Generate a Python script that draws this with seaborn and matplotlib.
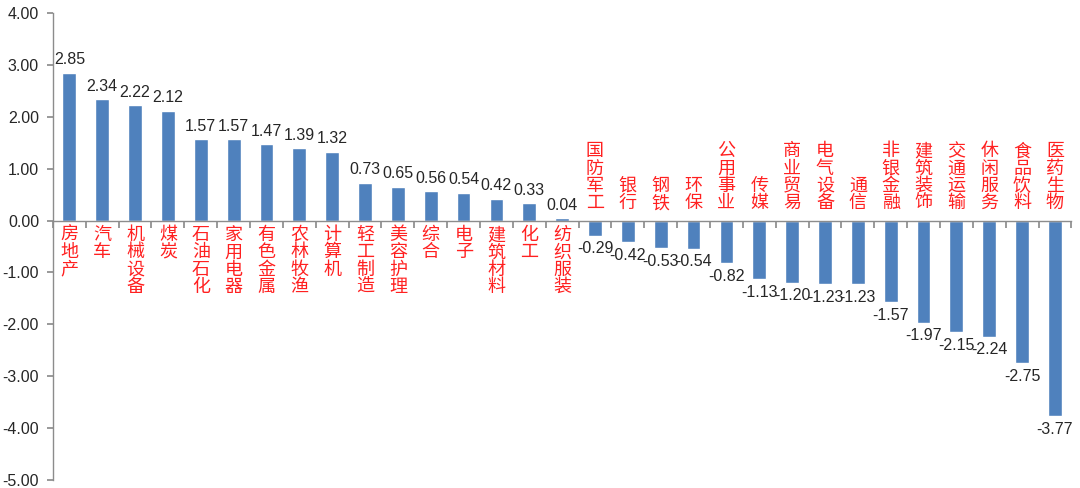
import matplotlib
matplotlib.use("Agg")
import pandas as pd
import seaborn as sns
import matplotlib.pyplot as plt
from matplotlib.ticker import FormatStrFormatter

# data
industries = ["房地产", "汽车", "机械设备", "煤炭", "石油石化", "家用电器", "有色金属",
              "农林牧渔", "计算机", "轻工制造", "美容护理", "综合", "电子", "建筑材料",
              "化工", "纺织服装", "国防军工", "银行", "钢铁", "环保", "公用事业", "传媒",
              "商业贸易", "电气设备", "通信", "非银金融", "建筑装饰", "交通运输",
              "休闲服务", "食品饮料", "医药生物"]
changes = [2.85, 2.34, 2.22, 2.12, 1.57, 1.57, 1.47, 1.39, 1.32, 0.73, 0.65, 0.56,
           0.54, 0.42, 0.33, 0.04, -0.29, -0.42, -0.53, -0.54, -0.82, -1.13, -1.20,
           -1.23, -1.23, -1.57, -1.97, -2.15, -2.24, -2.75, -3.77]

df = pd.DataFrame({"industry": industries, "change": changes})

sns.set_theme(style="white")
plt.rcParams["font.family"] = ["Liberation Sans", "Noto Sans CJK SC", "DejaVu Sans"]

fig = plt.figure(figsize=(10.8, 4.88), dpi=100)
ax = fig.add_axes([0.049, 0.0164, 0.943, 0.957])

sns.barplot(data=df, x="industry", y="change", color="#4F81BD", width=0.42,
            order=industries, ax=ax, saturation=1)

n = len(industries)
ax.set_xlim(-0.5, n - 0.5)
ax.set_ylim(-5, 4)
ax.set_yticks(range(-5, 5))
ax.yaxis.set_major_formatter(FormatStrFormatter("%.2f"))
ax.set_xlabel("")
ax.set_ylabel("")

# category axis sits on zero with ticks between bars
ax.set_xticks([i + 0.5 for i in range(-1, n)])
ax.set_xticklabels([])
ax.spines["bottom"].set_position(("data", 0))
for s in ["top", "right"]:
    ax.spines[s].set_visible(False)
for s in ["bottom", "left"]:
    ax.spines[s].set_color("#8C8C8C")
    ax.spines[s].set_linewidth(1)
ax.tick_params(axis="x", bottom=True, direction="out", length=5, color="#8C8C8C")
ax.tick_params(axis="y", left=True, direction="out", length=4, color="#8C8C8C",
               labelsize=11.5, pad=6)

cjk = ["Noto Sans CJK SC", "DejaVu Sans"]
for i, (name, v) in enumerate(zip(industries, changes)):
    label = "\n".join(name)
    if v >= 0:
        ax.annotate(f"{v:.2f}", (i, v), xytext=(0, 4), textcoords="offset points",
                    ha="center", va="bottom", fontsize=11.5)
        ax.annotate(label, (i, 0), xytext=(0, -4), textcoords="offset points",
                    ha="center", va="top", fontsize=13, color="#FF2020",
                    family=cjk, linespacing=0.95)
    else:
        ax.annotate(f"{v:.2f}", (i, v), xytext=(0, -4), textcoords="offset points",
                    ha="center", va="top", fontsize=11.5)
        ax.annotate(label, (i, 0), xytext=(0, 6), textcoords="offset points",
                    ha="center", va="bottom", fontsize=13, color="#FF2020",
                    family=cjk, linespacing=0.95)

fig.savefig("out.png", dpi=100)
